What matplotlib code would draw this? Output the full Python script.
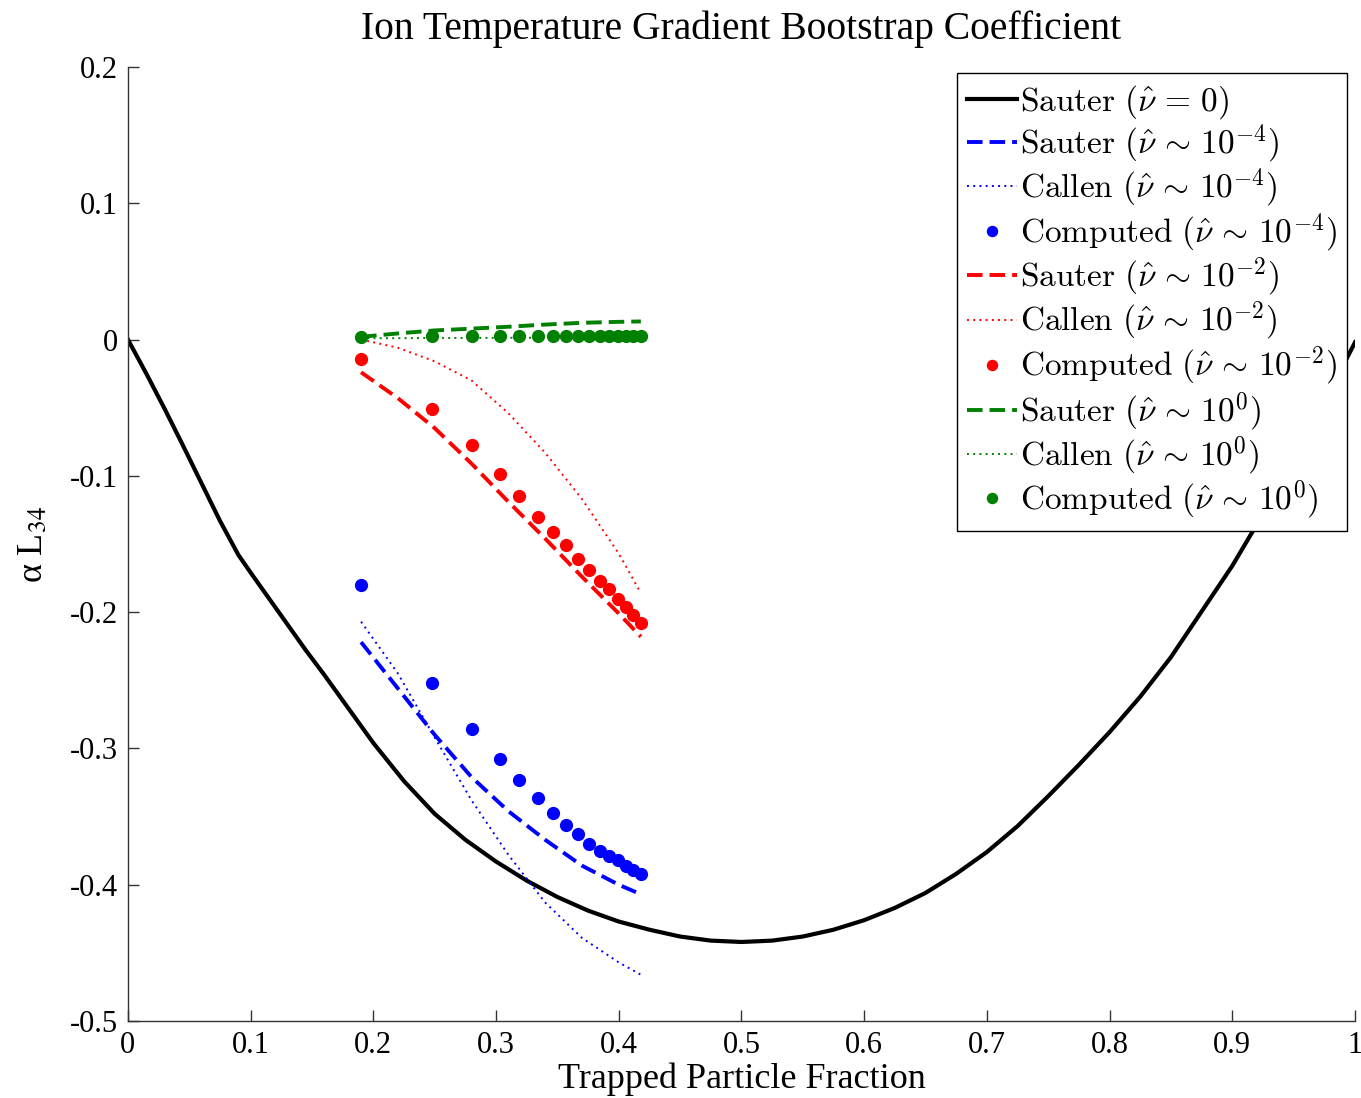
"""Ion temperature gradient bootstrap coefficient: Sauter / Callen fits vs computed points."""

import matplotlib

matplotlib.use("Agg")
import matplotlib.pyplot as plt
from matplotlib.font_manager import FontProperties

# Sauter (nu = 0) over the full trapped-fraction range
X_SAUTER0 = [0.0, 0.015, 0.03, 0.045, 0.06, 0.075, 0.09, 0.1, 0.115, 0.13, 0.145,
             0.16, 0.18, 0.2, 0.225, 0.25, 0.275, 0.3, 0.325, 0.35, 0.375, 0.4,
             0.425, 0.45, 0.475, 0.5, 0.525, 0.55, 0.575, 0.6, 0.625, 0.65,
             0.675, 0.7, 0.725, 0.75, 0.775, 0.8, 0.825, 0.85, 0.875, 0.9,
             0.925, 0.95, 0.975, 1.0]
Y_SAUTER0 = [0.0, -0.025, -0.051, -0.078, -0.1055, -0.133, -0.158, -0.171,
             -0.190, -0.209, -0.228, -0.246, -0.271, -0.296, -0.324, -0.348,
             -0.367, -0.383, -0.397, -0.409, -0.419, -0.427, -0.433, -0.438,
             -0.441, -0.442, -0.441, -0.438, -0.433, -0.426, -0.417, -0.406,
             -0.392, -0.376, -0.357, -0.335, -0.312, -0.288, -0.262, -0.233,
             -0.1995, -0.166, -0.128, -0.088, -0.046, -0.002]

# finite collisionality fits, sampled on a common grid
X_THEORY = [0.19, 0.22, 0.25, 0.28, 0.31, 0.34, 0.37, 0.40, 0.418]
SAUTER_1E4 = [-0.222, -0.256, -0.290, -0.321, -0.346, -0.367, -0.386, -0.400, -0.407]
CALLEN_1E4 = [-0.207, -0.245, -0.292, -0.338, -0.378, -0.413, -0.439, -0.457, -0.466]
SAUTER_1E2 = [-0.024, -0.043, -0.065, -0.091, -0.119, -0.146, -0.174, -0.201, -0.218]
CALLEN_1E2 = [0.000, -0.006, -0.016, -0.030, -0.054, -0.083, -0.117, -0.157, -0.186]
SAUTER_1E0 = [0.002, 0.0045, 0.0067, 0.008, 0.0094, 0.011, 0.0123, 0.013, 0.0133]
CALLEN_1E0 = [0.001, 0.001, 0.0012, 0.0012, 0.0013, 0.0014, 0.0015, 0.0015, 0.0015]

# computed points
X_COMP = [0.190, 0.248, 0.280, 0.303, 0.319, 0.334, 0.346, 0.357, 0.367, 0.376,
          0.385, 0.392, 0.399, 0.406, 0.412, 0.418]
COMP_1E4 = [-0.180, -0.252, -0.286, -0.308, -0.323, -0.336, -0.347, -0.356,
            -0.363, -0.370, -0.375, -0.379, -0.382, -0.386, -0.389, -0.392]
COMP_1E2 = [-0.014, -0.051, -0.077, -0.099, -0.115, -0.130, -0.141, -0.151,
            -0.161, -0.169, -0.177, -0.183, -0.190, -0.196, -0.202, -0.208]
COMP_1E0 = [0.002, 0.0025, 0.0025, 0.0025, 0.0025, 0.0025, 0.0025, 0.0025,
            0.0025, 0.0025, 0.0025, 0.0025, 0.0025, 0.0025, 0.0025, 0.0025]

X_TICKS = [0, 0.1, 0.2, 0.3, 0.4, 0.5, 0.6, 0.7, 0.8, 0.9, 1]
X_TICKLABELS = ["0", "0.1", "0.2", "0.3", "0.4", "0.5", "0.6", "0.7", "0.8", "0.9", "1"]
Y_TICKS = [0.2, 0.1, 0, -0.1, -0.2, -0.3, -0.4, -0.5]
Y_TICKLABELS = ["0.2", "0.1", "0", "-0.1", "-0.2", "-0.3", "-0.4", "-0.5"]

BLUE = "#0000ff"
RED = "#ff0000"
GREEN = "#008000"

plt.rcParams["font.family"] = ["Liberation Serif", "DejaVu Serif"]
plt.rcParams["mathtext.fontset"] = "stix"

DASH = (0, (4, 1.8))
DOT = (0, (1, 2.2))


def label(name, expo):
    if expo is None:
        return r"$\mathrm{%s}\ (\hat{\nu}\,=\,0)$" % name
    return r"$\mathrm{%s}\ (\hat{\nu}\,\sim\,10^{%s})$" % (name, expo)


def main() -> None:
    fig = plt.figure(figsize=(13.61, 10.98), dpi=100)
    ax = fig.add_axes([0.094, 0.0701, 0.9016, 0.8689])

    ax.plot(X_SAUTER0, Y_SAUTER0, color="black", lw=3.0, label=label("Sauter", None))

    groups = [
        (BLUE, SAUTER_1E4, CALLEN_1E4, COMP_1E4, "-4"),
        (RED, SAUTER_1E2, CALLEN_1E2, COMP_1E2, "-2"),
        (GREEN, SAUTER_1E0, CALLEN_1E0, COMP_1E0, "0"),
    ]
    for color, sauter, callen, comp, expo in groups:
        ax.plot(X_THEORY, sauter, color=color, lw=2.8, linestyle=DASH,
                label=label("Sauter", expo))
        ax.plot(X_THEORY, callen, color=color, lw=1.4, linestyle=DOT,
                label=label("Callen", expo))
        ax.plot(X_COMP, comp, color=color, linestyle="none", marker="o",
                markersize=8.5, label=label("Computed", expo))

    ax.set_xlim(0, 1)
    ax.set_ylim(-0.5, 0.2)
    ax.set_xticks(X_TICKS, X_TICKLABELS)
    ax.set_yticks(Y_TICKS, Y_TICKLABELS)
    ax.tick_params(direction="in", length=8, width=1, labelsize=22, pad=7,
                   color="#333333")
    for side in ("top", "right"):
        ax.spines[side].set_visible(False)
    for side in ("left", "bottom"):
        ax.spines[side].set_color("#333333")
        ax.spines[side].set_linewidth(1)

    ax.set_title("Ion Temperature Gradient Bootstrap Coefficient", fontsize=28.5, pad=20)
    ax.set_xlabel("Trapped Particle Fraction", fontsize=26, labelpad=2)
    ax.set_ylabel(r"α L$_{34}$", fontsize=26, labelpad=14)

    leg = ax.legend(loc="upper right", bbox_to_anchor=(0.9935, 0.9937),
                    borderaxespad=0, handlelength=1.5, handletextpad=0.1,
                    labelspacing=0.05, borderpad=0.3, fancybox=False,
                    framealpha=1, edgecolor="black", markerscale=0.85,
                    prop=FontProperties(size=24, math_fontfamily="cm"))
    leg.get_frame().set_linewidth(1)

    fig.savefig("out.png", dpi=100)


if __name__ == "__main__":
    main()
